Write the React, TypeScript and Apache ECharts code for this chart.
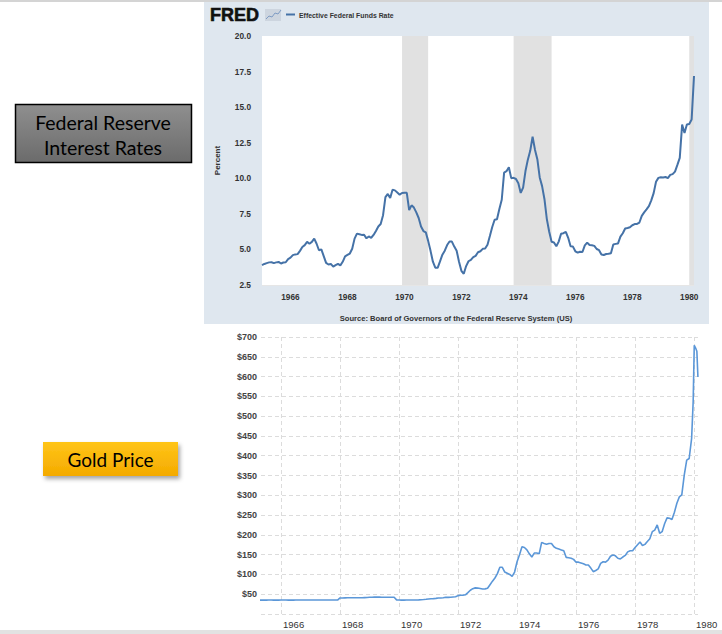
import React, { useEffect, useRef } from 'react';
import * as echarts from 'echarts';

// ---------- Effective Federal Funds Rate (monthly, from Jan 1965) ----------
const FED_START_YEAR = 1965;
const fedFunds: number[] = [
  // 1965
  3.90, 3.98, 4.04, 4.09, 4.10, 4.04, 4.09, 4.12, 4.01, 4.08, 4.10, 4.32,
  // 1966
  4.42, 4.60, 4.65, 4.67, 4.90, 5.17, 5.30, 5.53, 5.40, 5.53, 5.76, 5.40,
  // 1967
  4.94, 5.00, 4.53, 4.05, 3.94, 3.98, 3.79, 3.90, 3.99, 3.88, 4.13, 4.51,
  // 1968
  4.61, 4.71, 5.05, 5.76, 6.11, 6.07, 6.02, 6.03, 5.78, 5.91, 5.82, 6.02,
  // 1969
  6.30, 6.61, 6.79, 7.41, 8.67, 8.90, 8.61, 9.19, 9.15, 9.00, 8.85, 8.97,
  // 1970
  8.98, 8.98, 7.76, 8.10, 7.94, 7.60, 7.21, 6.61, 6.29, 6.20, 5.60, 4.90,
  // 1971
  4.14, 3.72, 3.71, 4.16, 4.63, 4.91, 5.31, 5.56, 5.55, 5.20, 4.91, 4.14,
  // 1972
  3.50, 3.29, 3.83, 4.17, 4.27, 4.46, 4.55, 4.80, 4.87, 5.04, 5.06, 5.33,
  // 1973
  5.94, 6.58, 7.09, 7.12, 7.84, 8.49, 10.40, 10.50, 10.78, 10.01, 10.03, 9.95,
  // 1974
  9.65, 8.97, 9.35, 10.51, 11.31, 11.93, 12.92, 12.01, 11.34, 10.06, 9.45, 8.53,
  // 1975
  7.13, 6.24, 5.54, 5.49, 5.22, 5.55, 6.10, 6.14, 6.24, 5.82, 5.22, 5.20,
  // 1976
  4.87, 4.77, 4.84, 4.82, 5.29, 5.48, 5.31, 5.29, 5.25, 5.03, 4.95, 4.65,
  // 1977
  4.61, 4.68, 4.69, 4.73, 5.35, 5.39, 5.42, 5.90, 6.14, 6.47, 6.51, 6.56,
  // 1978
  6.70, 6.78, 6.79, 6.89, 7.36, 7.60, 7.81, 8.04, 8.45, 8.96, 9.76, 10.03,
  // 1979
  10.07, 10.06, 10.09, 10.01, 10.24, 10.29, 10.47, 10.94, 11.43, 13.77, 13.18, 13.78,
  // 1980
  13.82, 14.13, 17.19,
];
const recessionStarts = ['1969-12', '1973-11', '1980-01'];
const recessionEnds = ['1970-11', '1975-03', '1980-03'];
const fredYTicks = [2.5, 5.0, 7.5, 10.0, 12.5, 15.0, 17.5, 20.0];

// ---------- Gold price (monthly, from Apr 1965) ----------
const GOLD_START_YEAR = 1965;
const GOLD_START_MONTH = 4;
const goldMonthly: number[] = [
  // 1965 Apr-Dec
  35.1, 35.1, 35.1, 35.1, 35.2, 35.2, 35.1, 35.2, 35.1,
  // 1966
  35.2, 35.2, 35.2, 35.1, 35.2, 35.1, 35.2, 35.2, 35.2, 35.2, 35.2, 35.2,
  // 1967
  35.2, 35.2, 35.2, 35.2, 35.2, 35.2, 35.2, 35.2, 35.2, 35.2, 35.2, 35.2,
  // 1968
  40.5, 40.6, 40.8, 41.0, 41.0, 41.0, 41.0, 41.0, 41.0, 41.2, 41.5, 41.8,
  // 1969
  42.3, 42.5, 42.6, 42.6, 42.6, 42.5, 42.5, 42.5, 42.5, 42.5, 42.3, 35.6,
  // 1970
  35.2, 35.0, 35.1, 35.3, 35.4, 35.4, 35.3, 35.4, 35.6, 36.0, 36.5, 37.2,
  // 1971
  38.0, 38.7, 38.9, 39.5, 40.5, 40.5, 41.0, 42.5, 42.0, 42.5, 43.0, 43.5,
  // 1972
  46.5, 47.5, 47.8, 48.5, 54.0, 60.0, 64.0, 66.0, 65.5, 64.5, 63.0, 63.5,
  // 1973
  65.0, 74.0, 83.0, 91.0, 102.0, 118.0, 118.0, 106.0, 103.0, 100.0, 95.0, 106.0,
  // 1974
  132.0, 150.0, 170.0, 168.0, 162.0, 152.0, 144.0, 154.0, 154.0, 152.0, 181.0, 178.0,
  // 1975
  176.0, 178.0, 178.0, 170.0, 166.0, 164.0, 162.0, 160.0, 143.0, 142.0, 141.0, 138.0,
  // 1976
  131.0, 131.0, 129.0, 127.0, 124.0, 124.0, 116.0, 107.0, 110.0, 114.0, 128.0, 132.0,
  // 1977
  131.0, 136.0, 146.0, 149.0, 147.0, 141.0, 139.0, 144.0, 148.0, 157.0, 160.0, 160.0,
  // 1978
  168.0, 175.0, 182.0, 173.0, 176.0, 183.0, 190.0, 208.0, 212.0, 225.0, 204.0, 208.0,
  // 1979
  228.0, 243.0, 242.0, 239.0, 257.0, 280.0, 296.0, 301.0, 351.0, 389.0, 393.0, 444.0,
];
const goldTailDates = ['1979-12-20', '1980-01-03', '1980-01-20', '1980-02-05', '1980-02-18'];
const goldTailValues = [536, 679, 672, 664, 599];
const yearTicks = [1966, 1968, 1970, 1972, 1974, 1976, 1978, 1980];

// date string -> decimal year
const dec = (s: string) => {
  const p = s.split('-').map(Number);
  return p[0] + ((p[1] || 1) - 1) / 12 + ((p[2] || 1) - 1) / 365;
};
const monthDec = (y: number, m: number, i: number) => y + (m - 1 + i) / 12;

const FONT = '"Liberation Sans", Arial, sans-serif';

export default function App() {
  const ref = useRef<HTMLDivElement>(null);
  useEffect(() => {
    document.body.style.margin = '0';
    const chart = echarts.init(ref.current!, null, { renderer: 'svg' });

    const fedData = fedFunds.map((v, i) => [monthDec(FED_START_YEAR, 1, i), v]);
    const goldData = goldMonthly.map((v, i) => [monthDec(GOLD_START_YEAR, GOLD_START_MONTH, i), v]);
    goldTailDates.forEach((d, i) => goldData.push([dec(d), goldTailValues[i]]));

    chart.setOption({
      animation: false,
      backgroundColor: '#ffffff',
      grid: [
        { left: 262, top: 36, width: 432, height: 249, show: true, backgroundColor: '#ffffff', borderWidth: 0, z: 1 },
        { left: 261, top: 337, width: 437, height: 277, show: false },
      ],
      xAxis: [
        {
          type: 'value', gridIndex: 0,
          min: dec('1965-01-01'), max: dec('1980-03-01'),
          axisLine: { show: false }, axisTick: { show: false, customValues: yearTicks },
          splitLine: { show: false },
          axisLabel: {
            customValues: yearTicks, margin: 8, fontSize: 8.3, fontWeight: 'bold', color: '#333', fontFamily: FONT,
            formatter: (v: number) => String(Math.round(v)),
          },
        },
        {
          type: 'value', gridIndex: 1,
          min: dec('1965-04-27'), max: dec('1980-02-19'),
          axisLine: { show: false }, axisTick: { show: false, customValues: yearTicks },
          splitLine: { show: true, lineStyle: { color: '#dcdcdc', type: [4, 3], width: 1 } },
          axisLabel: {
            customValues: yearTicks, margin: 5, fontSize: 9.5, color: '#333', fontFamily: FONT,
            align: 'left', padding: [0, 0, 0, 2],
            formatter: (v: number) => String(Math.round(v)),
          },
        },
      ],
      yAxis: [
        {
          type: 'value', gridIndex: 0, min: 2.5, max: 20, interval: 2.5,
          name: 'Percent', nameLocation: 'middle', nameGap: 41, nameRotate: 90,
          nameTextStyle: { fontSize: 8, fontWeight: 'bold', color: '#333', fontFamily: FONT },
          axisLine: { show: false }, axisTick: { show: false },
          splitLine: { show: true, lineStyle: { color: '#e6e6e6', width: 1 } },
          axisLabel: {
            margin: 11, fontSize: 8.3, fontWeight: 'bold', color: '#333', fontFamily: FONT,
            formatter: (v: number) => (fredYTicks.includes(v) ? v.toFixed(1) : ''),
          },
        },
        {
          type: 'value', gridIndex: 1, min: 0, max: 700, interval: 50,
          axisLine: { show: false }, axisTick: { show: false },
          splitLine: { show: true, lineStyle: { color: '#dcdcdc', type: [4, 3], width: 1 } },
          axisLabel: {
            margin: 4, fontSize: 9, fontWeight: 'bold', color: '#444', fontFamily: FONT,
            formatter: (v: number) => (v === 0 ? '' : '$' + v),
          },
        },
      ],
      series: [
        {
          type: 'line', xAxisIndex: 0, yAxisIndex: 0, data: fedData, z: 3,
          showSymbol: false, symbol: 'none',
          lineStyle: { color: '#4572a7', width: 2 },
          markArea: {
            silent: true,
            itemStyle: { color: '#e1e1e1', opacity: 1 },
            data: recessionStarts.map((s, i) => [{ xAxis: dec(s) }, { xAxis: dec(recessionEnds[i]) }]),
          },
        },
        {
          type: 'line', xAxisIndex: 1, yAxisIndex: 1, data: goldData, z: 3,
          showSymbol: false, symbol: 'none',
          lineStyle: { color: '#5b97d8', width: 1.6 },
        },
      ],
      graphic: [
        { type: 'rect', z: -100, shape: { x: 0, y: 0, width: 722, height: 2 }, style: { fill: '#d4d4d4' } },
        { type: 'rect', z: -100, shape: { x: 204, y: 2, width: 505, height: 322 }, style: { fill: '#dfe7ef' } },
        { type: 'rect', z: -100, shape: { x: 0, y: 630, width: 722, height: 4 }, style: { fill: '#e2e2e2' } },
        // FRED header
        { type: 'text', x: 210, y: 15, style: { text: 'FRED', font: `900 18px ${FONT}`, fill: '#111', verticalAlign: 'middle', stroke: '#111', lineWidth: 0.6 } },
        { type: 'rect', shape: { x: 265, y: 9, width: 16, height: 12 }, style: { fill: '#cdd5df' } },
        { type: 'polyline', shape: { points: [[266, 19], [269, 16], [272, 17], [275, 13], [278, 14], [281, 10]] }, style: { stroke: '#7f9cc4', lineWidth: 1, fill: null } },
        { type: 'line', shape: { x1: 286, y1: 14.5, x2: 295, y2: 14.5 }, style: { stroke: '#4572a7', lineWidth: 2 } },
        { type: 'text', x: 299, y: 15, style: { text: 'Effective Federal Funds Rate', font: `bold 6.9px ${FONT}`, fill: '#333', verticalAlign: 'middle' } },
        { type: 'text', x: 456, y: 318, style: { text: 'Source: Board of Governors of the Federal Reserve System (US)', font: `bold 7.6px ${FONT}`, fill: '#333', align: 'center', verticalAlign: 'middle' } },
        // Left boxes
        {
          type: 'rect', shape: { x: 15.5, y: 104.5, width: 176, height: 58 },
          style: {
            fill: new echarts.graphic.LinearGradient(0, 0, 0, 1, [
              { offset: 0, color: '#8f8f8f' }, { offset: 1, color: '#6b6b6b' },
            ]),
            stroke: '#000', lineWidth: 1.5,
          },
        },
        { type: 'text', x: 103, y: 122, style: { text: 'Federal Reserve', font: '19.5px Lato, "Open Sans", sans-serif', fill: '#000', align: 'center', verticalAlign: 'middle' } },
        { type: 'text', x: 103, y: 147, style: { text: 'Interest Rates', font: '19.5px Lato, "Open Sans", sans-serif', fill: '#000', align: 'center', verticalAlign: 'middle' } },
        {
          type: 'rect', shape: { x: 43, y: 442, width: 135, height: 34 },
          style: {
            fill: new echarts.graphic.LinearGradient(0, 0, 0, 1, [
              { offset: 0, color: '#ffc518' }, { offset: 1, color: '#f4aa00' },
            ]),
            shadowBlur: 4, shadowOffsetX: 2, shadowOffsetY: 3, shadowColor: 'rgba(0,0,0,0.35)',
          },
        },
        { type: 'text', x: 110.5, y: 459.5, style: { text: 'Gold Price', font: '19px Lato, "Open Sans", sans-serif', fill: '#000', align: 'center', verticalAlign: 'middle' } },
      ],
    });
    return () => chart.dispose();
  }, []);
  return <div ref={ref} style={{ position: 'absolute', left: 0, top: 0, width: 722, height: 634 }} />;
}
